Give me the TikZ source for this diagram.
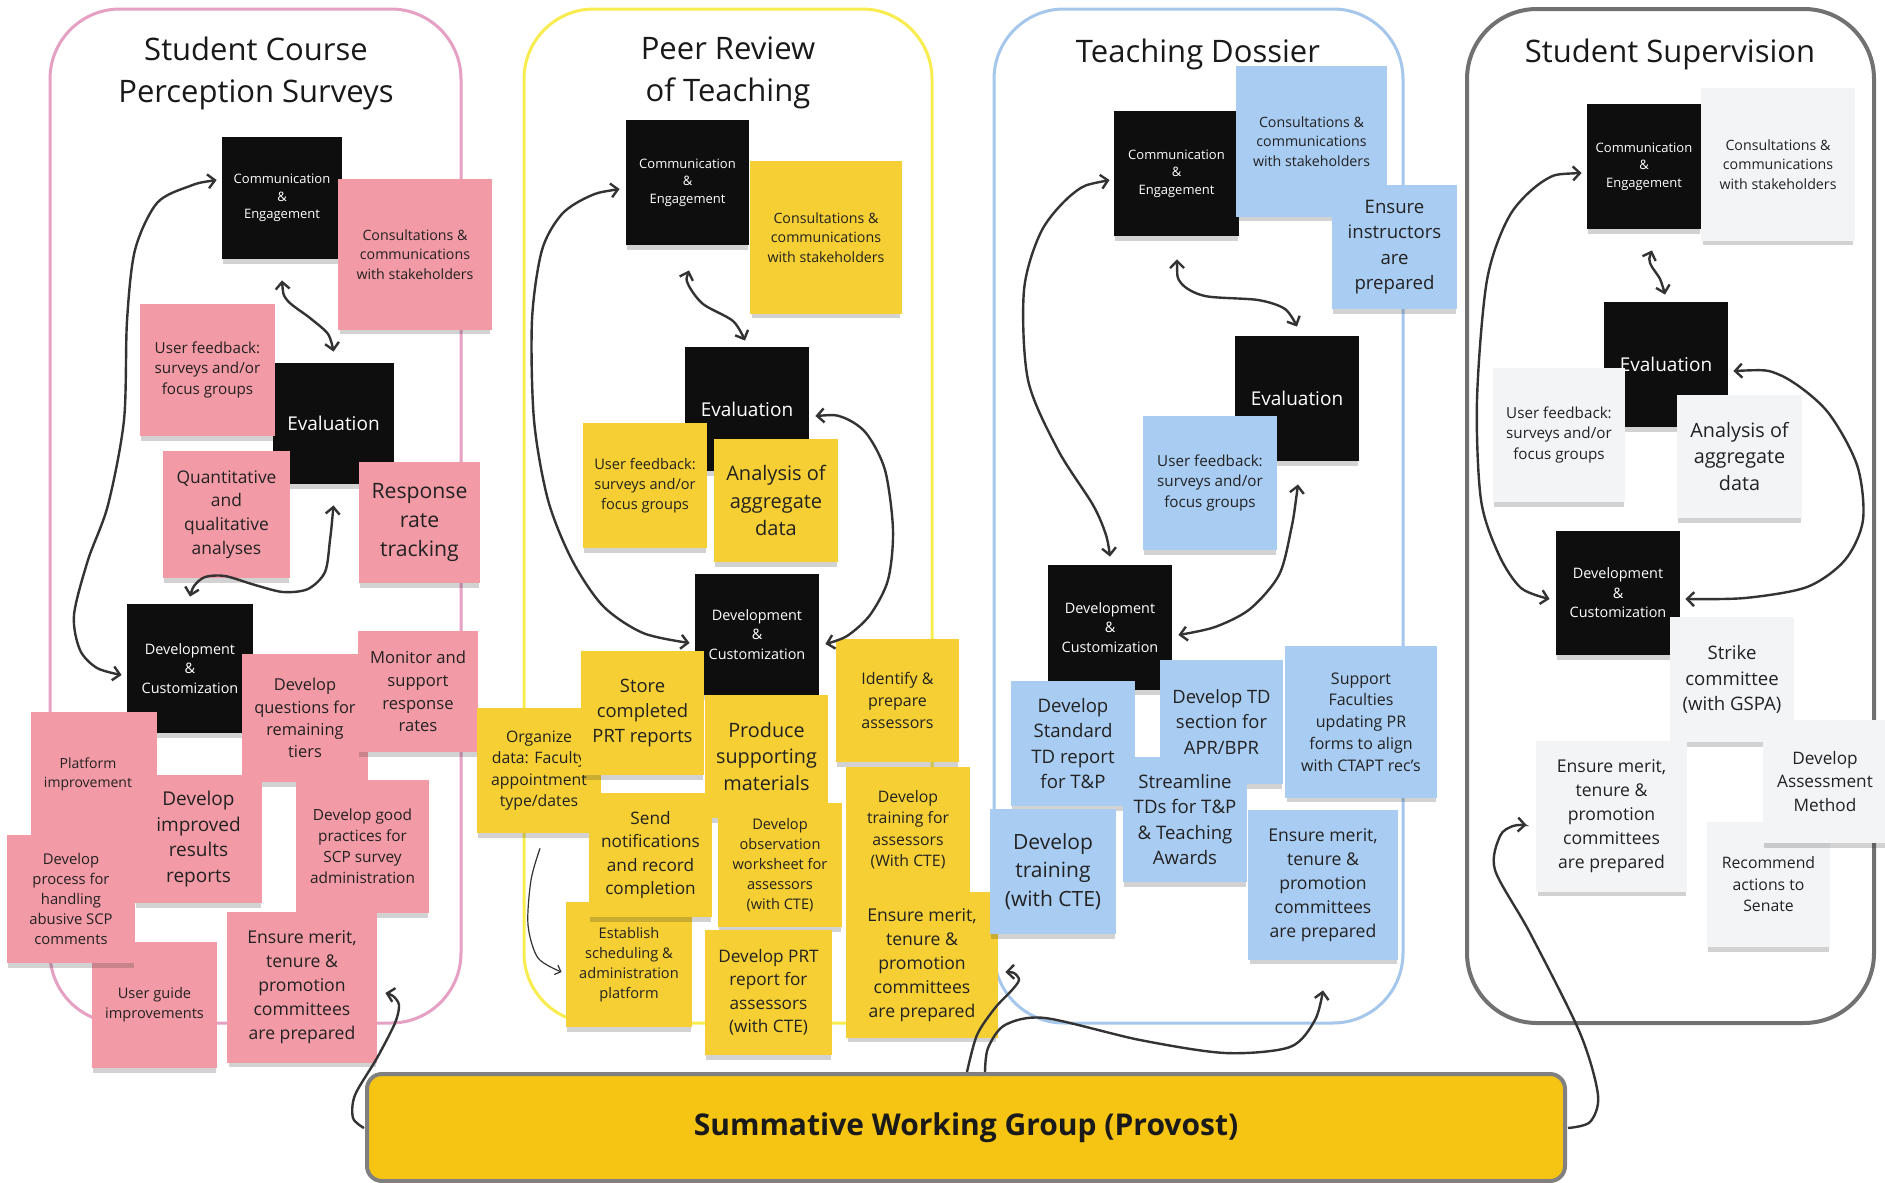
\documentclass[tikz,border=0pt]{standalone}
\usepackage{fontspec}
\setmainfont{Open Sans}
\usetikzlibrary{arrows.meta,shadows}
\definecolor{pknote}{HTML}{F29AA5}
\definecolor{ylnote}{HTML}{F5CF33}
\definecolor{blnote}{HTML}{A9CCF2}
\definecolor{grnote}{HTML}{F3F4F6}
\definecolor{blknote}{HTML}{0E0E0E}
\definecolor{pkline}{HTML}{E6A0C4}
\definecolor{ylline}{HTML}{F8EC4F}
\definecolor{blline}{HTML}{A5C7EC}
\definecolor{grline}{HTML}{717171}
\definecolor{arrowc}{HTML}{333333}
\definecolor{bartext}{HTML}{1A1A1A}
\definecolor{barfill}{HTML}{F6C514}
\definecolor{barline}{HTML}{808080}
\definecolor{notetext}{HTML}{222222}

\newcommand\sticky[8]{%
  \node[#2, minimum width={(#5-#3)*0.5pt}, minimum height={(#6-#4)*0.5pt},
        font=\fontsize{#7}{\fpeval{#7*1.36}}\selectfont] (#1)
        at ({(#3+#5)/2},{(#4+#6)/2}) {#8};}

\begin{document}
\begin{tikzpicture}[x=0.5pt, y=-0.5pt,
  >={Straight Barb[length=3.5pt,width=7pt]},
  note/.style={rectangle, inner sep=1pt, align=center, text=notetext,
     drop shadow={shadow xshift=0pt, shadow yshift=-3pt, shadow scale=0.98, opacity=0.22, fill=black!80}},
  pk/.style={note, fill=pknote},
  yl/.style={note, fill=ylnote},
  bl/.style={note, fill=blnote},
  gr/.style={note, fill=grnote},
  blk/.style={note, fill=blknote, text=white},
  cont/.style={rectangle, rounded corners=35pt, line width=1.5pt, inner sep=0pt},
  ttl/.style={font=\fontsize{15.5}{21}\selectfont, align=center, text=black!90, inner sep=0pt},
  conn/.style={draw=arrowc, line width=1.2pt},
  thinconn/.style={draw=arrowc, line width=0.6pt},
]
\useasboundingbox (0,0) rectangle (1885,1183);
\fill[white] (0,0) rectangle (1885,1183);

% containers
\node[cont, draw=pkline, minimum width={411*0.5pt}, minimum height={1014*0.5pt}] (box1) at (255.5,516) {};
\node[cont, draw=ylline, minimum width={408*0.5pt}, minimum height={1014*0.5pt}] (box2) at (728,516) {};
\node[cont, draw=blline, minimum width={409*0.5pt}, minimum height={1014*0.5pt}] (box3) at (1198.5,516) {};
\node[cont, draw=grline, line width=2pt, minimum width={407*0.5pt}, minimum height={1014*0.5pt}] (box4) at (1670.5,516) {};

% titles
\node[ttl] (t1) at (256,73) {Student Course\\Perception Surveys};
\node[ttl] (t2) at (728,73) {Peer Review\\of Teaching};
\node[ttl] (t3) at (1198,54) {Teaching Dossier};
\node[ttl] (t4) at (1670,54) {Student Supervision};

% ---------- column 1 ----------
\sticky{comm1}{blk}{222}{137}{342}{259}{6.5}{Communication\\\&\\Engagement}
\sticky{cons1}{pk}{338}{179}{492}{330}{7.1}{Consultations \&\\communications\\with stakeholders}
\sticky{eval1}{blk}{273}{363}{394}{484}{9.5}{Evaluation}
\sticky{uf1}{pk}{140}{304}{275}{436}{7.6}{User feedback:\\surveys and/or\\focus groups}
\sticky{qa1}{pk}{163}{451}{290}{578}{8.7}{Quantitative\\and\\qualitative\\analyses}
\sticky{rr1}{pk}{359}{462}{480}{583}{10.6}{Response\\rate\\tracking}
\sticky{dev1}{blk}{127}{604}{253}{733}{7.2}{Development\\\&\\Customization}
\sticky{dq1}{pk}{242}{654}{368}{782}{8.2}{Develop\\questions for\\remaining\\tiers}
\sticky{ms1}{pk}{358}{631}{478}{752}{8.3}{Monitor and\\support\\response\\rates}
\sticky{pi1}{pk}{31}{712}{157}{837}{7.0}{Platform\hspace*{6pt}\\improvement\hspace*{6pt}}
\sticky{di1}{pk}{135}{775}{262}{903}{9.5}{Develop\\improved\\results\\reports}
\sticky{ug1}{pk}{92}{942}{217}{1068}{7.3}{User guide\\improvements}
\sticky{dp1}{pk}{7}{835}{135}{963}{7.4}{Develop\\process for\\handling\\abusive SCP\\comments}
\sticky{dg1}{pk}{296}{780}{429}{913}{7.7}{Develop good\\practices for\\SCP survey\\administration}
\sticky{em1}{pk}{227}{912}{377}{1063}{8.8}{Ensure merit,\\tenure \&\\promotion\\committees\\are prepared}

% ---------- column 2 ----------
\sticky{comm2}{blk}{626}{120}{749}{245}{6.5}{Communication\\\&\\Engagement}
\sticky{cons2}{yl}{750}{161}{902}{314}{7.1}{Consultations \&\\communications\\with stakeholders}
\sticky{eval2}{blk}{685}{347}{809}{471}{9.5}{Evaluation}
\sticky{uf2}{yl}{583}{423}{707}{548}{7.3}{User feedback:\\surveys and/or\\focus groups}
\sticky{an2}{yl}{714}{439}{838}{562}{10.0}{Analysis of\\aggregate\\data}
\sticky{dev2}{blk}{695}{574}{819}{695}{7.2}{Development\\\&\\Customization}
\sticky{org2}{yl}{477}{708}{601}{833}{7.9}{Organize\\data: Faculty\\appointment\\type/dates}
\sticky{st2}{yl}{581}{651}{704}{775}{9.2}{Store\\completed\\PRT reports}
\sticky{pr2}{yl}{705}{695}{828}{818}{9.9}{Produce\\supporting\\materials}
\sticky{id2}{yl}{836}{639}{959}{762}{8.0}{Identify \&\\prepare\\assessors}
\sticky{es2}{yl}{566}{902}{692}{1027}{7.3}{Establish\\scheduling \&\\administration\\platform}
\sticky{sn2}{yl}{589}{793}{712}{917}{8.6}{Send\\notifications\\and record\\completion}
\sticky{ob2}{yl}{718}{803}{842}{927}{7.3}{Develop\\observation\\worksheet for\\assessors\\(with CTE)}
\sticky{tr2}{yl}{846}{767}{970}{892}{7.9}{Develop\\training for\\assessors\\(With CTE)}
\sticky{pd2}{yl}{705}{930}{832}{1055}{8.6}{Develop PRT\\report for\\assessors\\(with CTE)}
\sticky{em2}{yl}{846}{892}{998}{1038}{8.8}{Ensure merit,\\tenure \&\\promotion\\committees\\are prepared}

% ---------- column 3 ----------
\sticky{comm3}{blk}{1114}{111}{1239}{236}{6.5}{Communication\\\&\\Engagement}
\sticky{cons3}{bl}{1236}{66}{1387}{217}{7.1}{Consultations \&\\communications\\with stakeholders}
\sticky{ei3}{bl}{1332}{185}{1457}{309}{9.3}{Ensure\\instructors\\are\\prepared}
\sticky{eval3}{blk}{1235}{336}{1359}{461}{9.5}{Evaluation}
\sticky{uf3}{bl}{1143}{416}{1277}{550}{7.6}{User feedback:\\surveys and/or\\focus groups}
\sticky{dev3}{blk}{1048}{565}{1172}{690}{7.2}{Development\\\&\\Customization}
\sticky{ds3}{bl}{1011}{681}{1135}{806}{9.3}{Develop\\Standard\\TD report\\for T\&P}
\sticky{dt3}{bl}{1160}{660}{1283}{784}{9.2}{Develop TD\\section for\\APR/BPR}
\sticky{sf3}{bl}{1285}{646}{1437}{798}{8.0}{Support\\Faculties\\updating PR\\forms to align\\with CTAPT rec's}
\sticky{sl3}{bl}{1123}{757}{1247}{882}{9.3}{Streamline\\TDs for T\&P\\\& Teaching\\Awards}
\sticky{dtr3}{bl}{990}{809}{1116}{934}{10.5}{Develop\\training\\(with CTE)}
\sticky{em3}{bl}{1248}{810}{1398}{960}{8.8}{Ensure merit,\\tenure \&\\promotion\\committees\\are prepared}

% ---------- column 4 ----------
\sticky{comm4}{blk}{1587}{104}{1701}{229}{6.5}{Communication\\\&\\Engagement}
\sticky{cons4}{gr}{1701}{88}{1855}{241}{7.1}{Consultations \&\\communications\\with stakeholders}
\sticky{eval4}{blk}{1604}{302}{1728}{427}{9.5}{Evaluation}
\sticky{uf4}{gr}{1493}{368}{1625}{502}{7.6}{User feedback:\\surveys and/or\\focus groups}
\sticky{an4}{gr}{1677}{395}{1802}{518}{9.9}{Analysis of\\aggregate\\data}
\sticky{dev4}{blk}{1556}{531}{1680}{655}{7.2}{Development\\\&\\Customization}
\sticky{st4}{gr}{1670}{617}{1794}{742}{9.3}{Strike\\committee\\(with GSPA)}
\sticky{ra4}{gr}{1707}{822}{1830}{947}{7.9}{Recommend\\actions to\\Senate}
\sticky{da4}{gr}{1763}{720}{1887}{843}{8.6}{Develop\\Assessment\\Method}
\sticky{em4}{gr}{1536}{741}{1687}{892}{8.8}{Ensure merit,\\tenure \&\\promotion\\committees\\are prepared}

% ---------- bar ----------
\node[rectangle, rounded corners=7.5pt, draw=barline, line width=2pt, fill=barfill,
      minimum width={1198*0.5pt}, minimum height={107*0.5pt},
      font=\fontsize{15}{18}\selectfont\bfseries, text=bartext] (bar) at (966,1127.5)
      {Summative Working Group (Provost)};

% ---------- connectors ----------
\draw[conn,<->] plot[smooth] coordinates {([shift={(-5,-18)}]comm1.west) (190,186) (157,203) (135,250) (127,321) (124,420) (108,505) (88,560) (74,615) (80,650) (97,668) ([shift={(-5,6.5)}]dev1.west)};
\draw[conn,<->] plot[smooth] coordinates {([shift={(0,21)}]comm1.south) (287,300) (310,318) (328,334) ([shift={(0,-11)}]eval1.north)};
\draw[conn,<->] plot[smooth] coordinates {([shift={(0,21)}]eval1.south) (330,540) (325,572) (308,589) (283,592) (255,585) (225,576) (205,577) (194,586) ([shift={(0,-7)}]dev1.north)};

\draw[conn,<->] plot[smooth] coordinates {([shift={(-6,6.5)}]comm2.west) (590,196) (562,214) (542,250) (532,320) (534,420) (548,500) (572,560) (603,606) (643,633) ([shift={(-5,8.5)}]dev2.west)};
\draw[conn,<->] plot[smooth] coordinates {([shift={(1.5,25)}]comm2.south) (688,284) (703,304) (733,321) ([shift={(-2,-6)}]eval2.north)};
\draw[conn,<->] plot[smooth] coordinates {([shift={(6,7)}]eval2.east) (842,417) (866,433) (885,470) (893,530) (888,580) (870,615) (847,636) ([shift={(6,9.5)}]dev2.east)};
\draw[thinconn,-{Straight Barb[length=2.5pt,width=5pt]}] plot[smooth] coordinates {([shift={(1,15)}]org2.south) (531,880) (528,925) (538,958) ([shift={(-4,7.5)}]es2.west)};

\draw[conn,<->] plot[smooth] coordinates {([shift={(-4,6.5)}]comm3.west) (1075,192) (1042,230) (1024,290) (1028,380) (1058,450) (1093,505) (1106,535) ([shift={(0,-8)}]dev3.north)};
\draw[conn,<->] plot[smooth] coordinates {([shift={(0.5,23)}]comm3.south) (1181,283) (1205,296) (1258,300) (1285,309) ([shift={(0,-9)}]eval3.north)};
\draw[conn,<->] plot[smooth] coordinates {([shift={(1,23)}]eval3.south) (1291,530) (1279,575) (1250,609) (1215,627) ([shift={(6,7.5)}]dev3.east)};

\draw[conn,<->] plot[smooth] coordinates {([shift={(-5,6.5)}]comm4.west) (1545,180) (1510,215) (1487,280) (1477,400) (1481,500) (1499,555) (1521,588) ([shift={(-6,6)}]dev4.west)};
\draw[conn,<->] plot[smooth] coordinates {([shift={(8,21)}]comm4.south) (1650,263) (1660,279) ([shift={(-1,-7)}]eval4.north)};
\draw[conn,<->] plot[smooth] coordinates {([shift={(5,6.5)}]eval4.east) (1780,375) (1826,410) (1857,465) (1863,520) (1845,560) (1807,587) (1745,598) ([shift={(5,6)}]dev4.east)};

\draw[conn,->] plot[smooth] coordinates {([shift={(-1,0.5)}]bar.west) (353,1118) (355,1095) (377,1058) (395,1023) (399,1005) (393,996) ([shift={(8,5.5)}]em1.east)};
\draw[conn,->] plot[smooth] coordinates {([shift={(1,0)}]bar.north) (977,1035) (995,1008) (1012,990) (1019,980) (1014,973) ([shift={(7,7)}]em2.east)};
\draw[conn,->] plot[smooth] coordinates {([shift={(19,0)}]bar.north) (988,1048) (1005,1025) (1045,1018) (1140,1040) (1225,1053) (1290,1047) (1315,1020) ([shift={(0,30)}]em3.south)};
\draw[conn,->] plot[smooth] coordinates {([shift={(1,0.5)}]bar.east) (1590,1122) (1598,1095) (1580,1033) (1530,933) (1495,870) (1500,836) (1513,826) ([shift={(-9,8.5)}]em4.west)};
\end{tikzpicture}
\end{document}
